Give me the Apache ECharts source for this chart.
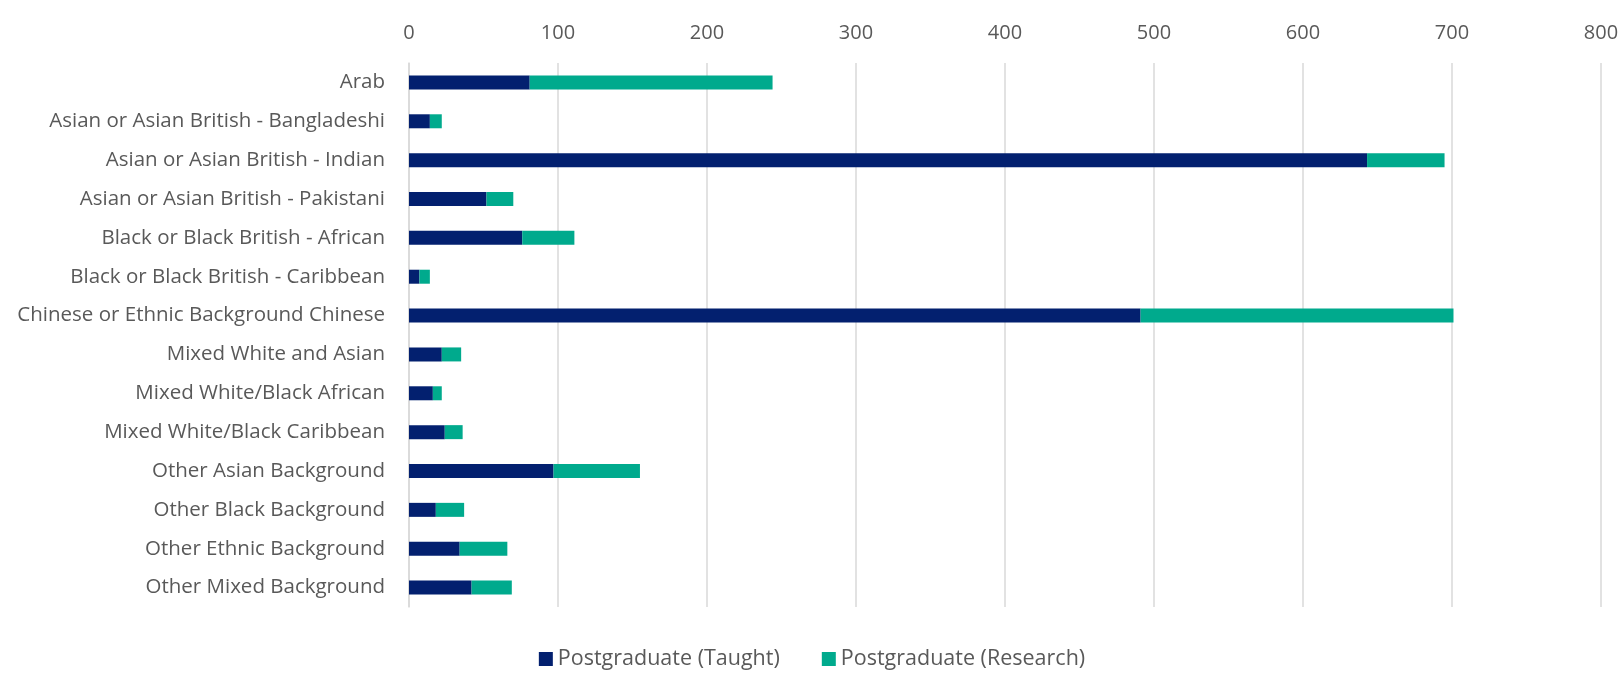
<!DOCTYPE html>
<html>
<head>
<meta charset="utf-8">
<script src="https://cdn.jsdelivr.net/npm/echarts@6/dist/echarts.min.js"></script>
<style>
  html, body { margin: 0; padding: 0; background: #ffffff; }
  #chart { width: 1624px; height: 677px; }
</style>
</head>
<body>
<div id="chart"></div>
<script>
// Student counts by ethnicity, postgraduate taught vs research
const categories = [
  'Arab',
  'Asian or Asian British - Bangladeshi',
  'Asian or Asian British - Indian',
  'Asian or Asian British - Pakistani',
  'Black or Black British - African',
  'Black or Black British - Caribbean',
  'Chinese or Ethnic Background Chinese',
  'Mixed White and Asian',
  'Mixed White/Black African',
  'Mixed White/Black Caribbean',
  'Other Asian Background',
  'Other Black Background',
  'Other Ethnic Background',
  'Other Mixed Background'
];
const taught   = [81, 14, 643, 52, 76, 7, 491, 22, 16, 24, 97, 18, 34, 42];
const research = [163, 8, 52, 18, 35, 7, 210, 13, 6, 12, 58, 19, 32, 27];
const seriesNames = ['Postgraduate (Taught)', 'Postgraduate (Research)'];
const axisMax = 800;
const axisStep = 100;

const FONT = '"Open Sans", "Noto Sans", sans-serif';
const TEXT = '#595959';

const chart = echarts.init(document.getElementById('chart'));
chart.setOption({
  animation: false,
  textStyle: { fontFamily: FONT },
  grid: { left: 409, right: 23, top: 63, bottom: 70, containLabel: false },
  legend: {
    bottom: 2,
    left: 'center',
    itemWidth: 14,
    itemHeight: 14,
    itemGap: 42,
    icon: 'rect',
    textStyle: { color: TEXT, fontSize: 21.5, fontFamily: FONT }
  },
  xAxis: {
    type: 'value',
    position: 'top',
    min: 0,
    max: axisMax,
    interval: axisStep,
    axisLine: { show: false },
    axisTick: { show: false },
    splitLine: { lineStyle: { color: '#d9d9d9', width: 1.5 } },
    axisLabel: { color: TEXT, fontSize: 20, margin: 20, fontFamily: FONT }
  },
  yAxis: {
    type: 'category',
    inverse: true,
    data: categories,
    axisLine: { show: true, lineStyle: { color: '#d9d9d9', width: 1.5 } },
    axisTick: { show: false },
    axisLabel: { color: TEXT, fontSize: 20.5, margin: 24, fontFamily: FONT }
  },
  series: [
    {
      name: seriesNames[0],
      type: 'bar',
      stack: 'total',
      data: taught,
      barWidth: 14,
      itemStyle: { color: '#03206f' }
    },
    {
      name: seriesNames[1],
      type: 'bar',
      stack: 'total',
      data: research,
      barWidth: 14,
      itemStyle: { color: '#00aa8d' }
    }
  ]
});
</script>
</body>
</html>
